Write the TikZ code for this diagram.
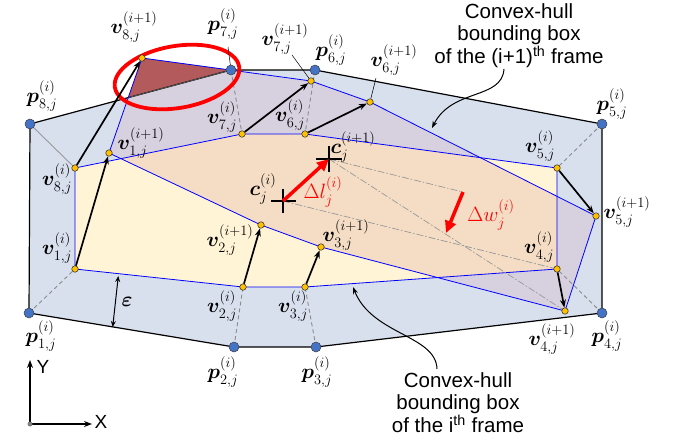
\documentclass[tikz,border=0pt]{standalone}
\usepackage{amsmath}
\usepackage{bm}
\usepackage{fontspec}
\setmainfont{Liberation Sans}
\usetikzlibrary{arrows.meta}
\definecolor{boxblue}{HTML}{D8E0EE}
\definecolor{cream}{HTML}{FFF4D6}
\definecolor{tanc}{HTML}{F4DDC4}
\definecolor{lav}{HTML}{D7D0DF}
\definecolor{brick}{HTML}{B35A5C}
\definecolor{dotblue}{HTML}{4472C4}
\definecolor{dotyellow}{HTML}{FFC000}
\definecolor{hullblue}{HTML}{0000FF}
\begin{document}
\begin{tikzpicture}[x=1pt,y=-1pt,
  bdot/.style={circle, inner sep=0pt, minimum size=10pt, fill=dotblue, draw=black!75, line width=0.5pt},
  ydot/.style={circle, inner sep=0pt, minimum size=6.5pt, fill=dotyellow, draw=black!85, line width=0.5pt},
  lab/.style={inner sep=0pt, font=\fontsize{22}{24}\selectfont},
  ann/.style={font=\fontsize{20.5}{21.5}\selectfont, align=center, inner sep=0pt},
  hull/.style={draw=hullblue, line width=0.8pt},
  move/.style={black, line width=1.7pt, -{Stealth[length=8pt,width=6pt]}},
  pv/.style={black!45, line width=0.9pt, dash pattern=on 4pt off 3pt},
  dd/.style={black!40, line width=0.7pt, dash pattern=on 7pt off 2pt on 1.5pt off 2pt},
  bigred/.style={red, line width=3.5pt, -{Triangle[length=12pt,width=11pt]}},
  lead/.style={black, line width=0.5pt},
  note/.style={black, line width=1pt, -{Stealth[length=7pt,width=5pt]}},
  crossm/.style={black, line width=1.6pt}
]
\useasboundingbox (0,0) rectangle (674,439);
% box corners
\coordinate (P1) at (29,313);
\coordinate (P2) at (234,347);
\coordinate (P3) at (316,347);
\coordinate (P4) at (602,313);
\coordinate (P5) at (602,124);
\coordinate (P6) at (315,70);
\coordinate (P7) at (231,70);
\coordinate (P8) at (30,124);
% i hull
\coordinate (V1) at (75,269);
\coordinate (V2) at (243,287);
\coordinate (V3) at (305,287);
\coordinate (V4) at (557,269);
\coordinate (V5) at (557,168);
\coordinate (V6) at (305,134);
\coordinate (V7) at (242,134);
\coordinate (V8) at (75,168);
% i+1 hull
\coordinate (W1) at (109,153);
\coordinate (W2) at (261,225);
\coordinate (W3) at (321,247);
\coordinate (W4) at (565,311);
\coordinate (W5) at (596,216);
\coordinate (W6) at (370,102);
\coordinate (W7) at (311,81);
\coordinate (W8) at (142,58);
\coordinate (X) at (128.2,97.6);
% centres
\coordinate (c1) at (283,201);
\coordinate (c2) at (329,159);

% fills
\fill[boxblue] (P1)--(P2)--(P3)--(P4)--(P5)--(P6)--(P7)--(P8)--cycle;
\fill[cream] (V1)--(V2)--(V3)--(V4)--(V5)--(V6)--(V7)--(V8)--cycle;
\fill[lav] (W1)--(W2)--(W3)--(W4)--(W5)--(W6)--(W7)--(W8)--cycle;
\begin{scope}
\clip (V1)--(V2)--(V3)--(V4)--(V5)--(V6)--(V7)--(V8)--cycle;
\fill[tanc] (W1)--(W2)--(W3)--(W4)--(W5)--(W6)--(W7)--(W8)--cycle;
\end{scope}
\fill[brick] (W8)--(P7)--(X)--cycle;

% outlines
\draw[black, line width=1.2pt] (P1)--(P2)--(P3)--(P4)--(P5)--(P6)--(P7)--(P8)--cycle;
\draw[black!60, line width=0.6pt] (X)--(P7);
\draw[hull] (V1)--(V2)--(V3)--(V4)--(V5)--(V6)--(V7)--(V8)--cycle;
\draw[hull] (W1)--(W2)--(W3)--(W4)--(W5)--(W6)--(W7)--(W8)--cycle;

% p - v links
\draw[black!40, line width=0.9pt] (P8)--(V8);
\draw[pv] (P1)--(V1);
\draw[pv] (P2)--(V2);
\draw[pv] (P3)--(V3);
\draw[pv] (P4)--(V4);
\draw[pv] (P5)--(V5);
\draw[pv] (P6)--(V6);
\draw[pv] (P7)--(V7);

% dash-dot construction lines
\coordinate (wa) at (463,192);
\coordinate (wb) at (446,233);
\draw[dd] (c1)--(V4);
\draw[dd] (c2)--(W4);
\draw[dd] (c2)--(wa);

% red ellipse
\draw[red, line width=3.8pt, rotate around={9.5:(177,77)}] (177,77) ellipse (63 and 31);

% dots
\foreach \k in {1,...,8} {\node[bdot] (p\k) at (P\k) {};}
\foreach \k in {1,...,8} {\node[ydot] (v\k) at (V\k) {};}
\foreach \k in {1,...,8} {\node[ydot] (w\k) at (W\k) {};}

% motion arrows
\foreach \k in {1,...,8} {\draw[move] (v\k) -- (w\k);}

% centre crosses
\draw[crossm] (c1) ++(-12,0) -- ++(25,0);
\draw[crossm] (c1) ++(0,-12) -- ++(0,24);
\draw[crossm] (c2) ++(-13,0) -- ++(26,0);
\draw[crossm] (c2) ++(0,-13) -- ++(0,26);

% red arrows
\draw[bigred] (c1) -- (c2);
\draw[bigred] (wa) -- (wb);

% epsilon arrow
\coordinate (e1) at (118.3,276);
\coordinate (e2) at (112.7,327);
\draw[black, line width=1pt, {Stealth[length=6pt,width=5pt]}-{Stealth[length=6pt,width=5pt]}] (e1) -- (e2);

% labels
\node[lab] (lp1) at (41,336) {$\bm{p}^{(i)}_{1,j}$};
\node[lab] (lp2) at (223,372) {$\bm{p}^{(i)}_{2,j}$};
\node[lab] (lp3) at (317,372) {$\bm{p}^{(i)}_{3,j}$};
\node[lab] (lp4) at (607,336) {$\bm{p}^{(i)}_{4,j}$};
\node[lab] (lp5) at (612,104) {$\bm{p}^{(i)}_{5,j}$};
\node[lab] (lp6) at (331,50) {$\bm{p}^{(i)}_{6,j}$};
\node[lab] (lp7) at (223,24) {$\bm{p}^{(i)}_{7,j}$};
\node[lab] (lp8) at (42,96) {$\bm{p}^{(i)}_{8,j}$};
\node[lab] (lv1) at (57,248) {$\bm{v}^{(i)}_{1,j}$};
\node[lab] (lv2) at (222,306) {$\bm{v}^{(i)}_{2,j}$};
\node[lab] (lv3) at (293,306) {$\bm{v}^{(i)}_{3,j}$};
\node[lab] (lv4) at (539,247) {$\bm{v}^{(i)}_{4,j}$};
\node[lab] (lv5) at (540,146) {$\bm{v}^{(i)}_{5,j}$};
\node[lab] (lv6) at (290,115) {$\bm{v}^{(i)}_{6,j}$};
\node[lab] (lv7) at (222,117) {$\bm{v}^{(i)}_{7,j}$};
\node[lab] (lv8) at (57,179) {$\bm{v}^{(i)}_{8,j}$};
\node[lab] (lw1) at (141,143) {$\bm{v}^{(i+1)}_{1,j}$};
\node[lab] (lw2) at (230,240) {$\bm{v}^{(i+1)}_{2,j}$};
\node[lab] (lw3) at (346,235) {$\bm{v}^{(i+1)}_{3,j}$};
\node[lab] (lw4) at (552,339) {$\bm{v}^{(i+1)}_{4,j}$};
\node[lab] (lw5) at (627,212) {$\bm{v}^{(i+1)}_{5,j}$};
\node[lab] (lw6) at (394,60) {$\bm{v}^{(i+1)}_{6,j}$};
\node[lab] (lw7) at (285,39) {$\bm{v}^{(i+1)}_{7,j}$};
\node[lab] (lw8) at (134,27) {$\bm{v}^{(i+1)}_{8,j}$};
\node[lab] (lc1) at (263,189) {$\bm{c}^{(i)}_{j}$};
\node[lab] (lc2) at (353,147) {$\bm{c}^{(i+1)}_{j}$};
\node[lab, text=red] (ldl) at (323,192) {$\Delta l^{(i)}_{j}$};
\node[lab, text=red] (ldw) at (491,215) {$\Delta w^{(i)}_{j}$};
\node[lab] (leps) at (127,302) {$\bm{\varepsilon}$};

% leaders
\coordinate (l7) at (228,47);
\coordinate (l7w) at (292,55);
\coordinate (l6w) at (376,78);
\draw[lead] (l7) -- (p7);
\draw[lead] (l7w) -- (w7);
\draw[lead] (l6w) -- (w6);

% annotations
\node[ann] (ann1) at (519,36) {Convex-hull\\bounding box\\of the (i+1)\textsuperscript{th} frame};
\node[ann] (ann2) at (458,403) {Convex-hull\\bounding box\\of the i\textsuperscript{th} frame};
\coordinate (a1s) at (504,69);
\coordinate (a1e) at (432,128);
\coordinate (a2s) at (437,369);
\coordinate (a2e) at (353,287);
\draw[note] (a1s) .. controls (502,100) and (452,88) .. (a1e);
\draw[note] (a2s) .. controls (436,335) and (372,335) .. (a2e);

% axes
\coordinate (O) at (30,424);
\coordinate (Yend) at (30,360);
\coordinate (Xend) at (92,424);
\draw[black, line width=1.4pt, -{Stealth[length=8pt,width=6pt]}] (O) -- (Yend);
\draw[black, line width=1.4pt, -{Stealth[length=8pt,width=6pt]}] (O) -- (Xend);
\node[circle, fill=gray, inner sep=0pt, minimum size=5pt] (odot) at (O) {};
\node[font=\fontsize{19}{20}\selectfont, inner sep=0pt] (ly) at (43,367) {Y};
\node[font=\fontsize{19}{20}\selectfont, inner sep=0pt] (lx) at (101,422) {X};
\end{tikzpicture}
\end{document}
